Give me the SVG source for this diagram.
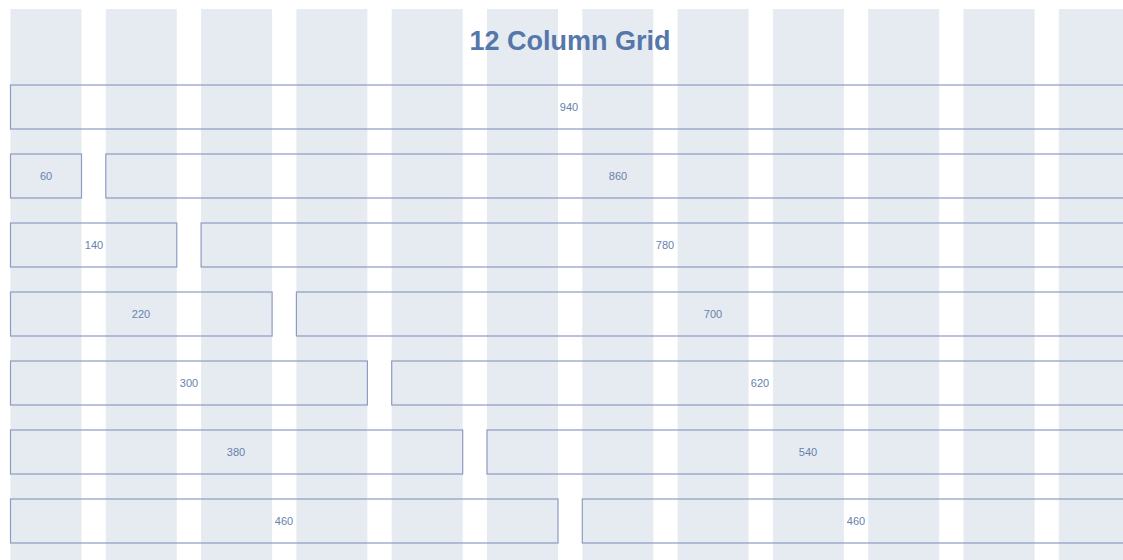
<svg xmlns="http://www.w3.org/2000/svg" width="1123" height="560" viewBox="0 0 1123 560">
<style>
.col{fill:#e6ebf1}
.box{fill:none;stroke:#8d9cc0;stroke-width:1.2}
.lbl{font-family:"Liberation Sans",Arial,sans-serif;font-size:11px;fill:#6781ad;text-anchor:middle}
.title{font-family:"Liberation Sans",Arial,sans-serif;font-size:27px;font-weight:bold;fill:#5677aa;text-anchor:middle}
</style>
<rect width="1123" height="560" fill="#ffffff"/>
<g id="columns">
<rect class="col" x="10.5" y="9" width="71" height="551"/>
<rect class="col" x="105.8" y="9" width="71" height="551"/>
<rect class="col" x="201.1" y="9" width="71" height="551"/>
<rect class="col" x="296.4" y="9" width="71" height="551"/>
<rect class="col" x="391.7" y="9" width="71" height="551"/>
<rect class="col" x="487" y="9" width="71" height="551"/>
<rect class="col" x="582.3" y="9" width="71" height="551"/>
<rect class="col" x="677.6" y="9" width="71" height="551"/>
<rect class="col" x="772.9" y="9" width="71" height="551"/>
<rect class="col" x="868.2" y="9" width="71" height="551"/>
<rect class="col" x="963.5" y="9" width="71" height="551"/>
<rect class="col" x="1058.8" y="9" width="71" height="551"/>
</g>
<text id="title" class="title" x="570" y="50">12 Column Grid</text>
<g id="row1">
<rect class="box" x="10.5" y="85" width="1120" height="44"/>
<text class="lbl" x="569" y="111">940</text>
</g>
<g id="row2">
<rect class="box" x="10.5" y="154" width="71" height="44"/>
<text class="lbl" x="46" y="180">60</text>
<rect class="box" x="105.8" y="154" width="1025" height="44"/>
<text class="lbl" x="618" y="180">860</text>
</g>
<g id="row3">
<rect class="box" x="10.5" y="223" width="166.3" height="44"/>
<text class="lbl" x="94" y="249">140</text>
<rect class="box" x="201.1" y="223" width="930" height="44"/>
<text class="lbl" x="665" y="249">780</text>
</g>
<g id="row4">
<rect class="box" x="10.5" y="292" width="261.6" height="44"/>
<text class="lbl" x="141" y="318">220</text>
<rect class="box" x="296.4" y="292" width="835" height="44"/>
<text class="lbl" x="713" y="318">700</text>
</g>
<g id="row5">
<rect class="box" x="10.5" y="361" width="356.9" height="44"/>
<text class="lbl" x="189" y="387">300</text>
<rect class="box" x="391.7" y="361" width="740" height="44"/>
<text class="lbl" x="760" y="387">620</text>
</g>
<g id="row6">
<rect class="box" x="10.5" y="430" width="452.2" height="44"/>
<text class="lbl" x="236" y="456">380</text>
<rect class="box" x="487" y="430" width="645" height="44"/>
<text class="lbl" x="808" y="456">540</text>
</g>
<g id="row7">
<rect class="box" x="10.5" y="499" width="547.5" height="44"/>
<text class="lbl" x="284" y="525">460</text>
<rect class="box" x="582.3" y="499" width="550" height="44"/>
<text class="lbl" x="856" y="525">460</text>
</g>
</svg>
